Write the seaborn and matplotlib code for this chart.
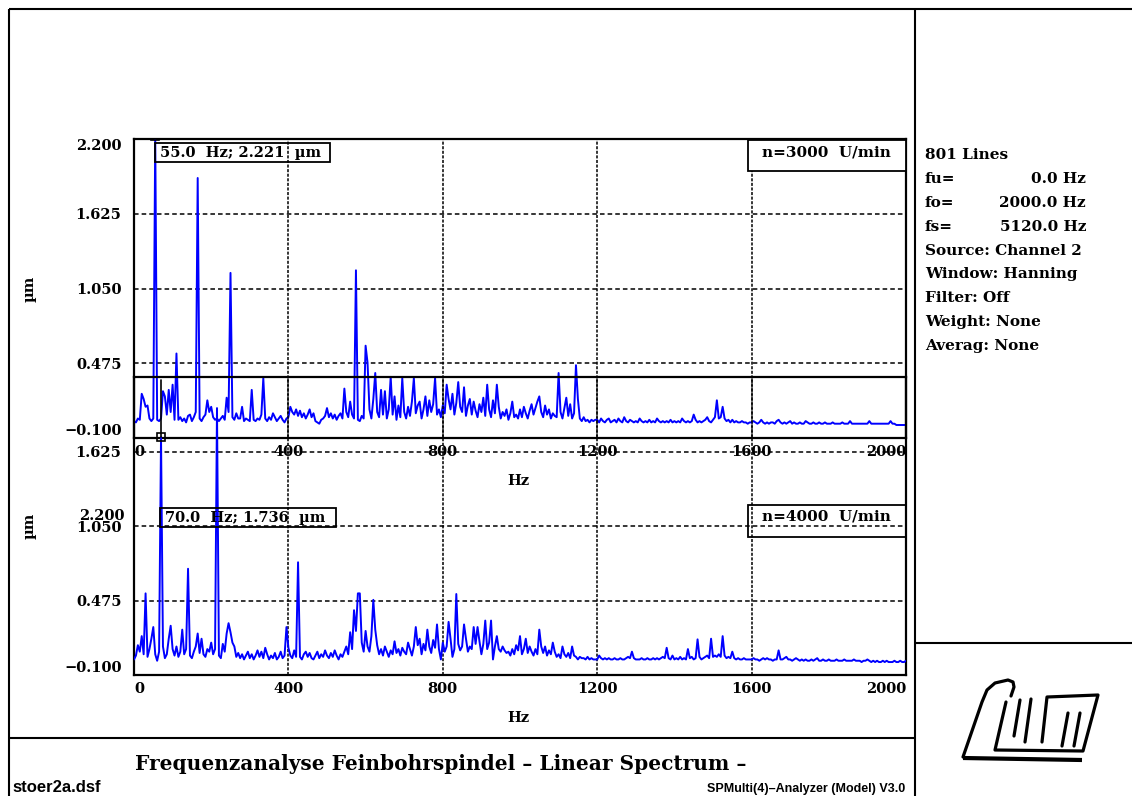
import numpy as np
import pandas as pd
import matplotlib
matplotlib.use("Agg")
import matplotlib.pyplot as plt
import seaborn as sns
from matplotlib.patches import Rectangle

# ---------------- data ----------------
FREQ_STEP = 5.0  # Hz per spectral bin (0 ... 2000 Hz)

top_amp = [
    0.03, 0.02, 0.05, 0.04, 0.24, 0.20, 0.14, 0.15, 0.05, 0.03, 0.05, 2.221, 0.04, 0.03, 0.05, 0.26, 0.22, 0.08, 0.27, 0.10,
    0.31, 0.04, 0.55, 0.04, 0.06, 0.03, 0.05, 0.02, 0.07, 0.08, 0.03, 0.06, 0.10, 1.90, 0.05, 0.03, 0.06, 0.08, 0.19, 0.10,
    0.14, 0.06, 0.04, 0.05, 0.03, 0.05, 0.07, 0.04, 0.21, 0.10, 1.17, 0.06, 0.04, 0.09, 0.05, 0.05, 0.14, 0.03, 0.05, 0.04,
    0.03, 0.27, 0.04, 0.03, 0.05, 0.04, 0.08, 0.36, 0.05, 0.03, 0.06, 0.04, 0.09, 0.06, 0.03, 0.05, 0.07, 0.04, 0.02, 0.05,
    0.06, 0.14, 0.10, 0.08, 0.12, 0.07, 0.11, 0.06, 0.09, 0.05, 0.08, 0.12, 0.06, 0.09, 0.03, 0.02, 0.01, 0.04, 0.05, 0.07,
    0.13, 0.06, 0.09, 0.05, 0.08, 0.04, 0.07, 0.09, 0.05, 0.28, 0.10, 0.06, 0.18, 0.08, 0.05, 1.19, 0.04, 0.03, 0.07, 0.05,
    0.61, 0.48, 0.12, 0.05, 0.20, 0.40, 0.10, 0.06, 0.27, 0.08, 0.26, 0.05, 0.12, 0.37, 0.08, 0.22, 0.04, 0.15, 0.06, 0.36,
    0.10, 0.05, 0.14, 0.07, 0.18, 0.36, 0.09, 0.15, 0.18, 0.05, 0.12, 0.22, 0.07, 0.19, 0.10, 0.16, 0.36, 0.08, 0.12, 0.06,
    0.15, 0.09, 0.31, 0.20, 0.12, 0.24, 0.08, 0.17, 0.33, 0.14, 0.10, 0.29, 0.07, 0.15, 0.20, 0.08, 0.18, 0.11, 0.06, 0.16,
    0.10, 0.21, 0.07, 0.31, 0.12, 0.06, 0.19, 0.09, 0.31, 0.14, 0.05, 0.10, 0.07, 0.12, 0.04, 0.09, 0.18, 0.06, 0.08, 0.05,
    0.12, 0.06, 0.14, 0.09, 0.05, 0.11, 0.16, 0.08, 0.13, 0.18, 0.22, 0.10, 0.06, 0.15, 0.08, 0.12, 0.05, 0.09, 0.07, 0.06,
    0.40, 0.10, 0.05, 0.13, 0.21, 0.07, 0.16, 0.05, 0.09, 0.46, 0.20, 0.05, 0.03, 0.06, 0.03, 0.04, 0.02, 0.04, 0.03, 0.04,
    0.04, 0.02, 0.05, 0.03, 0.02, 0.04, 0.05, 0.02, 0.03, 0.04, 0.02, 0.05, 0.03, 0.02, 0.06, 0.03, 0.02, 0.04, 0.03, 0.02,
    0.03, 0.02, 0.05, 0.03, 0.02, 0.03, 0.02, 0.04, 0.02, 0.03, 0.02, 0.05, 0.03, 0.02, 0.03, 0.02, 0.03, 0.02, 0.04, 0.02,
    0.03, 0.02, 0.03, 0.02, 0.05, 0.03, 0.02, 0.03, 0.02, 0.03, 0.08, 0.04, 0.02, 0.03, 0.02, 0.03, 0.04, 0.06, 0.03, 0.02,
    0.04, 0.06, 0.19, 0.05, 0.06, 0.14, 0.05, 0.03, 0.04, 0.02, 0.04, 0.02, 0.03, 0.02, 0.02, 0.03, 0.02, 0.02, 0.01, 0.02,
    0.02, 0.03, 0.02, 0.01, 0.02, 0.04, 0.02, 0.01, 0.02, 0.01, 0.02, 0.02, 0.01, 0.03, 0.04, 0.02, 0.01, 0.02, 0.01, 0.02,
    0.03, 0.01, 0.02, 0.01, 0.01, 0.02, 0.01, 0.01, 0.03, 0.02, 0.01, 0.01, 0.02, 0.01, 0.01, 0.02, 0.01, 0.01, 0.02, 0.01,
    0.01, 0.01, 0.02, 0.01, 0.01, 0.01, 0.01, 0.02, 0.01, 0.01, 0.01, 0.03, 0.01, 0.01, 0.01, 0.01, 0.01, 0.01, 0.01, 0.01,
    0.01, 0.03, 0.01, 0.01, 0.01, 0.01, 0.01, 0.01, 0.01, 0.01, 0.01, 0.01, 0.03, 0.01, 0.01, 0.00, 0.00, 0.00, 0.00, 0.00,
    0.00,
]

bot_amp = [
    0.02, 0.05, 0.13, 0.08, 0.20, 0.06, 0.53, 0.04, 0.10, 0.18, 0.27, 0.06, 0.01, 0.08, 1.736, 0.12, 0.03, 0.06, 0.18, 0.28,
    0.10, 0.05, 0.12, 0.04, 0.08, 0.25, 0.06, 0.10, 0.72, 0.05, 0.03, 0.08, 0.12, 0.22, 0.07, 0.18, 0.06, 0.04, 0.10, 0.08,
    0.15, 0.06, 0.10, 1.96, 0.05, 0.03, 0.14, 0.08, 0.22, 0.30, 0.23, 0.15, 0.12, 0.04, 0.07, 0.03, 0.06, 0.02, 0.05, 0.08,
    0.03, 0.06, 0.02, 0.05, 0.09, 0.04, 0.08, 0.03, 0.11, 0.06, 0.02, 0.05, 0.03, 0.07, 0.02, 0.04, 0.08, 0.03, 0.05, 0.27,
    0.11, 0.05, 0.03, 0.09, 0.04, 0.77, 0.04, 0.02, 0.06, 0.08, 0.04, 0.07, 0.03, 0.02, 0.05, 0.08, 0.03, 0.06, 0.04, 0.09,
    0.05, 0.03, 0.07, 0.04, 0.09, 0.05, 0.02, 0.06, 0.04, 0.08, 0.12, 0.06, 0.23, 0.10, 0.40, 0.24, 0.53, 0.53, 0.15, 0.08,
    0.24, 0.12, 0.08, 0.20, 0.48, 0.25, 0.13, 0.06, 0.10, 0.05, 0.12, 0.08, 0.04, 0.09, 0.06, 0.16, 0.07, 0.10, 0.05, 0.11,
    0.08, 0.06, 0.15, 0.10, 0.05, 0.12, 0.27, 0.13, 0.18, 0.06, 0.14, 0.09, 0.25, 0.12, 0.07, 0.17, 0.11, 0.29, 0.10, 0.02,
    0.15, 0.08, 0.12, 0.31, 0.18, 0.04, 0.10, 0.525, 0.14, 0.09, 0.12, 0.29, 0.18, 0.08, 0.12, 0.10, 0.27, 0.14, 0.27, 0.16,
    0.06, 0.14, 0.32, 0.10, 0.15, 0.32, 0.02, 0.12, 0.20, 0.10, 0.08, 0.12, 0.09, 0.07, 0.08, 0.05, 0.10, 0.06, 0.13, 0.09,
    0.20, 0.06, 0.10, 0.18, 0.07, 0.12, 0.08, 0.05, 0.10, 0.06, 0.25, 0.12, 0.07, 0.12, 0.05, 0.09, 0.06, 0.15, 0.08, 0.04,
    0.06, 0.03, 0.12, 0.06, 0.04, 0.07, 0.03, 0.12, 0.05, 0.04, 0.02, 0.04, 0.03, 0.03, 0.02, 0.04, 0.02, 0.03, 0.02, 0.02,
    0.02, 0.05, 0.03, 0.02, 0.03, 0.02, 0.03, 0.02, 0.02, 0.03, 0.02, 0.02, 0.03, 0.02, 0.02, 0.03, 0.04, 0.03, 0.08, 0.03,
    0.02, 0.02, 0.02, 0.03, 0.02, 0.02, 0.03, 0.02, 0.02, 0.03, 0.02, 0.03, 0.02, 0.03, 0.04, 0.03, 0.11, 0.03, 0.02, 0.05,
    0.02, 0.03, 0.02, 0.04, 0.02, 0.03, 0.02, 0.10, 0.03, 0.04, 0.02, 0.03, 0.175, 0.04, 0.02, 0.03, 0.04, 0.05, 0.03, 0.18,
    0.04, 0.05, 0.04, 0.06, 0.04, 0.20, 0.05, 0.03, 0.04, 0.03, 0.08, 0.03, 0.02, 0.03, 0.02, 0.02, 0.03, 0.02, 0.02, 0.02,
    0.02, 0.03, 0.02, 0.02, 0.01, 0.02, 0.03, 0.02, 0.03, 0.02, 0.02, 0.01, 0.02, 0.02, 0.09, 0.02, 0.02, 0.03, 0.04, 0.02,
    0.02, 0.01, 0.02, 0.03, 0.02, 0.01, 0.02, 0.01, 0.02, 0.01, 0.01, 0.02, 0.01, 0.02, 0.03, 0.01, 0.01, 0.02, 0.01, 0.01,
    0.02, 0.01, 0.01, 0.01, 0.02, 0.01, 0.01, 0.01, 0.02, 0.01, 0.01, 0.01, 0.01, 0.02, 0.01, 0.01, 0.01, 0.00, 0.01, 0.01,
    0.02, 0.01, 0.00, 0.01, 0.00, 0.01, 0.00, 0.00, 0.01, 0.00, 0.01, 0.00, 0.00, 0.00, 0.01, 0.00, 0.00, 0.01, 0.00, 0.00,
    0.01,
]

x_ticks = [0, 400, 800, 1200, 1600, 2000]
x_ticklabels = ["0", "400", "800", "1200", "1600", "2000"]
y_ticks = [-0.1, 0.475, 1.05, 1.625, 2.2]
y_ticklabels = ["\u22120.100", "0.475", "1.050", "1.625", "2.200"]

marker_top = (55.0, 2.221)
marker_bot = (70.0, 1.736)
label_top = "55.0  Hz; 2.221  \u00b5m"
label_bot = "70.0  Hz; 1.736  \u00b5m"
speed_top = "n=3000  U/min"
speed_bot = "n=4000  U/min"

info_labels = ["801 Lines", "fu=", "fo=", "fs=", "Source: Channel 2",
               "Window: Hanning", "Filter: Off", "Weight: None", "Averag: None"]
info_values = ["", "0.0 Hz", "2000.0 Hz", "5120.0 Hz", "", "", "", "", ""]

title = "Frequenzanalyse Feinbohrspindel \u2013 Linear Spectrum \u2013"
file_name = "stoer2a.dsf"
software = "SPMulti(4)\u2013Analyzer (Model) V3.0"

freqs = np.arange(len(top_amp)) * FREQ_STEP
df_top = pd.DataFrame({"Hz": freqs, "amp": top_amp})
df_bot = pd.DataFrame({"Hz": freqs, "amp": bot_amp})

# ---------------- style ----------------
sns.set_style("white")
SERIF = ["DejaVu Serif", "DejaVu Sans"]
plt.rcParams["font.family"] = SERIF
for key in ("text.color", "axes.labelcolor", "xtick.color", "ytick.color"):
    plt.rcParams[key] = "black"

W, H = 1132, 796
fig = plt.figure(figsize=(W / 100, H / 100), dpi=100)
fig.patch.set_facecolor("white")


def rect(l, t, r, b):
    return [l / W, 1 - b / H, (r - l) / W, (b - t) / H]


ax1 = fig.add_axes(rect(134, 139, 906, 438))
ax2 = fig.add_axes(rect(134, 377, 906, 675))
ax1.set_facecolor("white")
ax2.patch.set_alpha(0)

FS = 10.5
for ax, df in ((ax1, df_top), (ax2, df_bot)):
    sns.lineplot(data=df, x="Hz", y="amp", ax=ax, color="#0000ff",
                 linewidth=1.4, estimator=None, zorder=3)
    ax.set_xlim(0, 2000)
    ax.set_ylim(-0.1, 2.2)
    ax.grid(axis="x", color="black", linestyle=(0, (2, 1)), linewidth=1.1, zorder=1)
    ax.grid(axis="y", color="black", linestyle=(0, (3, 2)), linewidth=1.1, zorder=1)
    ax.set_axisbelow(True)
    for s in ax.spines.values():
        s.set_color("black")
        s.set_linewidth(1.6)
        s.set_visible(True)
    ax.tick_params(length=0, labelsize=FS, pad=5, colors="black")
    ax.set_xticks(x_ticks, x_ticklabels, fontweight="bold", family=SERIF)
    xl = ax.get_xticklabels()
    xl[0].set_ha("left")
    xl[-1].set_ha("right")
    ax.set_xlabel("Hz", fontsize=FS, fontweight="bold", family=SERIF, color="black")
    ax.xaxis.set_label_coords(0.4974, -0.144)
    ax.xaxis.label.set_va("center")
    ax.set_ylabel("")
    ax.text(-0.1347, 0.5, "\u00b5m", transform=ax.transAxes, rotation=90,
            ha="center", va="center", fontsize=FS, fontweight="bold", family=SERIF)

# y tick labels
ax1.set_yticks(y_ticks, y_ticklabels, fontweight="bold", family=SERIF)
ax1.tick_params(axis="y", pad=9)
yl = ax1.get_yticklabels()
yl[0].set_va("bottom")
yl[-1].set_va("top")

ax2.set_yticks(y_ticks[:-1], y_ticklabels[:-1], fontweight="bold", family=SERIF)
ax2.tick_params(axis="y", pad=9)
ax2.get_yticklabels()[0].set_va("bottom")
ax2.text(-0.0117, 1.13, y_ticklabels[-1], transform=ax2.get_yaxis_transform(),
         ha="right", va="center", fontsize=FS, fontweight="bold", family=SERIF)

# cursor markers
ax1.plot([marker_top[0]], [marker_top[1]], marker="s", ms=6, mfc="none",
         mec="black", mew=1.2, zorder=5)
ax2.plot([marker_bot[0], marker_bot[0]], [marker_bot[1], 2.18], color="black",
         lw=1.2, zorder=5)
ax2.plot([marker_bot[0]], [marker_bot[1]], marker="s", ms=6, mfc="none",
         mec="black", mew=1.2, zorder=6)

# ---------------- overlay (frame, boxes, texts) ----------------
ov = fig.add_axes([0, 0, 1, 1])
ov.set_xlim(0, W)
ov.set_ylim(H, 0)
ov.axis("off")
ov.patch.set_alpha(0)

frame_kw = dict(color="black", lw=1.5, solid_capstyle="butt")
ov.plot([9, 9], [9, H], **frame_kw)
ov.plot([9, W], [9, 9], **frame_kw)
ov.plot([915, 915], [9, H], **frame_kw)
ov.plot([9, 915], [738, 738], **frame_kw)
ov.plot([915, W], [643, 643], **frame_kw)

bold = dict(fontsize=FS, fontweight="bold", family=SERIF, color="black")
bold_info = dict(fontsize=11, fontweight="bold", family=SERIF, color="black")

ov.add_patch(Rectangle((155, 143), 175, 19, fill=False, ec="black", lw=1.3))
ov.text(160, 153, label_top, ha="left", va="center", **bold)
ov.add_patch(Rectangle((748, 140), 158, 31, fc="white", ec="black", lw=1.3, zorder=4))
ov.text(826, 153, speed_top, ha="center", va="center", zorder=5, **bold_info)
ov.add_patch(Rectangle((160, 508), 176, 19, fill=False, ec="black", lw=1.3))
ov.text(165, 518, label_bot, ha="left", va="center", **bold)
ov.add_patch(Rectangle((748, 505), 158, 32, fill=False, ec="black", lw=1.3))
ov.text(826, 517, speed_bot, ha="center", va="center", **bold_info)

info_y = [155, 179, 203, 227, 251, 274, 298, 322, 346]
for lab, val, yy in zip(info_labels, info_values, info_y):
    ov.text(925, yy, lab, ha="left", va="center", **bold_info)
    if val:
        ov.text(1086, yy, val, ha="right", va="center", **bold_info)

ov.text(441, 764, title, ha="center", va="center", fontsize=14.5, fontweight="bold",
         family=SERIF, color="black")
ov.text(12, 787, file_name, ha="left", va="center", fontsize=12, fontweight="bold",
         family=["Liberation Sans", "DejaVu Sans"], color="black")
ov.text(905, 789, software, ha="right", va="center", fontsize=9, fontweight="bold",
         family=["Liberation Sans", "DejaVu Sans"], color="black")

# logo (sketch of the lwm emblem), figure pixel coordinates
logo_kw = dict(color="black", lw=2.3, solid_joinstyle="round", solid_capstyle="round")
logo_paths = [
    [(963, 757), (982, 702), (987, 690), (995, 683), (1008, 680), (1013, 682), (1014, 687), (1011, 696)],
    [(1006, 702), (995, 750), (1083, 751), (1098, 695), (1047, 697), (1042, 742)],
    [(1020, 700), (1014, 736)],
    [(1031, 699), (1025, 742)],
    [(1068, 713), (1062, 746)],
    [(1080, 713), (1074, 746)],
]
for path in logo_paths:
    ov.plot([p[0] for p in path], [p[1] for p in path], **logo_kw)
ov.plot([963, 1082], [758, 760], color="black", lw=3.0, solid_capstyle="butt")

fig.savefig("out.png", dpi=100)
